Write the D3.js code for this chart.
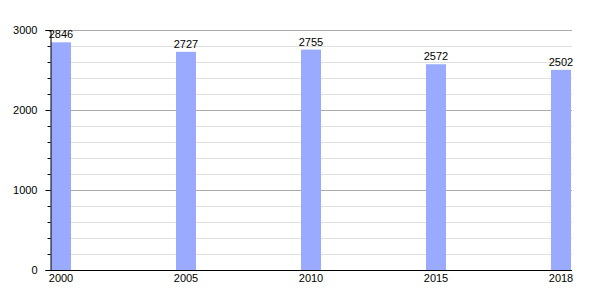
<!DOCTYPE html>
<html>
<head>
<meta charset="utf-8">
<script src="https://cdn.jsdelivr.net/npm/d3@7"></script>
<style>
  body { margin: 0; background: #fff; }
  text { font-family: "Liberation Sans", Arial, sans-serif; font-size: 11px; fill: #000; }
</style>
</head>
<body>
<script>
var years = ["2000", "2005", "2010", "2015", "2018"];
var population = [2846, 2727, 2755, 2572, 2502];
var majorTicks = [0, 1000, 2000, 3000];
var minorTicks = [200, 400, 600, 800, 1200, 1400, 1600, 1800, 2200, 2400, 2600, 2800];

const W = 600, H = 300;
var plot = { left: 50, right: 572, top: 30, bottom: 270 };

var svg = d3.select("body").append("svg")
    .attr("width", W)
    .attr("height", H);

var x = d3.scaleBand()
    .domain(years)
    .range([plot.left + 1, plot.right - 1])
    .paddingInner(0.84)
    .paddingOuter(0);

var y = d3.scaleLinear()
    .domain([0, 3000])
    .range([plot.bottom, plot.top]);

// grid lines
svg.append("g").selectAll("line")
    .data(minorTicks)
    .enter().append("line")
    .attr("x1", plot.left).attr("x2", plot.right)
    .attr("y1", function(d) { return Math.round(y(d)) + 0.5; })
    .attr("y2", function(d) { return Math.round(y(d)) + 0.5; })
    .attr("stroke", "#e0e0e0");

svg.append("g").selectAll("line")
    .data(majorTicks.slice(1))
    .enter().append("line")
    .attr("x1", plot.left).attr("x2", plot.right)
    .attr("y1", function(d) { return Math.round(y(d)) + 0.5; })
    .attr("y2", function(d) { return Math.round(y(d)) + 0.5; })
    .attr("stroke", "#aaaaaa");

// bars
svg.append("g").selectAll("rect")
    .data(population)
    .enter().append("rect")
    .attr("x", function(d, i) { return x(years[i]); })
    .attr("width", x.bandwidth())
    .attr("y", function(d) { return y(d); })
    .attr("height", function(d) { return y(0) - y(d); })
    .attr("fill", "#99aaff");

// value labels
svg.append("g").selectAll("text")
    .data(population)
    .enter().append("text")
    .attr("x", function(d, i) { return x(years[i]) + x.bandwidth() / 2; })
    .attr("y", function(d) { return y(d) - 4; })
    .attr("text-anchor", "middle")
    .text(function(d) { return d; });

// y axis
var axisY = d3.axisLeft(y)
    .tickValues(majorTicks)
    .tickSize(5)
    .tickPadding(8)
    .tickFormat(d3.format("d"));

var gy = svg.append("g")
    .attr("transform", "translate(" + (plot.left + 0.5) + ",0)")
    .call(axisY);
gy.select(".domain").attr("stroke", "#000");
gy.selectAll("text").style("font-size", "11px");

svg.append("g")
    .attr("transform", "translate(" + (plot.left + 0.5) + ",0)")
    .call(d3.axisLeft(y).tickValues(minorTicks).tickSize(3).tickFormat(""))
    .select(".domain").remove();

// x axis
var axisX = d3.axisBottom(x)
    .tickSize(0)
    .tickPadding(4);

var gx = svg.append("g")
    .attr("transform", "translate(0," + (plot.bottom + 0.5) + ")")
    .call(axisX);
gx.select(".domain").attr("d", "M" + plot.left + ",0H" + plot.right).attr("stroke", "#000");
gx.selectAll("text").style("font-size", "11px");
</script>
</body>
</html>
